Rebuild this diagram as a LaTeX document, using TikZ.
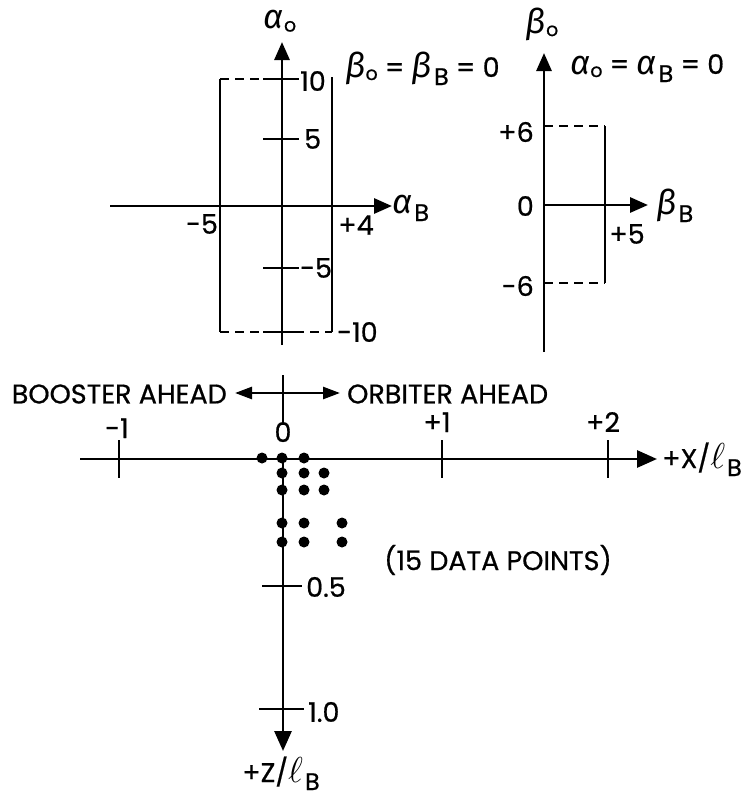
\documentclass[tikz,border=0pt]{standalone}
\usepackage{fontspec}
\setmainfont{Poppins}[FakeBold=0.6]
\newfontfamily\greekfont{Fira Sans}
\newcommand{\gr}[1]{{\greekfont\itshape\fontsize{34}{34}\selectfont #1}}
\newcommand{\subo}{\raisebox{-3pt}{\fontsize{19}{19}\selectfont o}}
\newcommand{\subB}{\kern2pt\raisebox{-8pt}{\fontsize{24}{24}\selectfont B}}
\newcommand{\ellB}{\scalebox{1.45}{$\ell$}\subB}
\usetikzlibrary{arrows.meta, positioning}

\begin{document}
\begin{tikzpicture}[
        x=1pt, y=-1pt,
        font=\fontsize{27}{30}\selectfont,
        axis/.style={line width=2.9pt, -{Triangle[length=18pt, width=15pt]}},
        side/.style={line width=2.6pt},
        limit/.style={line width=2.6pt, dash pattern=on 9pt off 6pt},
        tickmark/.style={line width=2.4pt},
        dot/.style={circle, fill, inner sep=0pt, minimum size=11pt},
        lbl/.style={inner sep=0pt}
    ]
    \useasboundingbox (0,0) rectangle (741,798);

    % alpha plot
    \coordinate (a0) at (282,206);
    \draw[axis] (110,206) -- (392,206);
    \draw[axis] (282,345) -- (282,42);
    \draw[side] (220,79) -- (220,332);
    \draw[side] (332,77) -- (332,332);
    \draw[limit] (220,79) -- (263,79);
    \draw[limit] (220,332) -- (332,332);
    \foreach \y in {79,139,268,332}
        \draw[tickmark] (263,\y) -- (299,\y);
    \node[lbl] (aotitle) at (280,21) {\gr{α}\subo};
    \node[lbl, anchor=base west] (abtitle) at (392,213) {\gr{α}\subB};
    \node[lbl, anchor=base west] (bzero) at (345,77) {\gr{β}\subo\ = \gr{β}\subB\ = 0};
    \node[lbl, anchor=west] (ap10) at (300,81) {10};
    \node[lbl, anchor=west] (ap5) at (304,139) {5};
    \node[lbl, anchor=west] (am5) at (300,268) {-5};
    \node[lbl, anchor=west] (am10) at (337,332) {-10};
    \node[lbl] (bm5) at (202,224) {-5};
    \node[lbl] (bp4) at (356,225) {+4};

    % beta plot
    \coordinate (b0) at (544,205);
    \draw[axis] (544,352) -- (544,53);
    \draw[axis] (544,205) -- (648,205);
    \draw[side] (605,126) -- (605,283);
    \draw[limit] (544,126) -- (605,126);
    \draw[limit] (544,283) -- (605,283);
    \node[lbl] (botitle) at (542,24) {\gr{β}\subo};
    \node[lbl, anchor=base west] (bbtitle) at (656,214) {\gr{β}\subB};
    \node[lbl, anchor=base west] (azero) at (570,74) {\gr{α}\subo\ = \gr{α}\subB\ = 0};
    \node[lbl, anchor=east] (bp6) at (534,132) {+6};
    \node[lbl, anchor=east] (b00) at (534,206) {0};
    \node[lbl, anchor=east] (bm6) at (534,286) {-6};
    \node[lbl] (bp5) at (627,234) {+5};

    % station plot
    \coordinate (s0) at (283,459);
    \draw[tickmark] (283,375) -- (283,425);
    \draw[line width=2.6pt, {Triangle[length=17pt, width=12pt]}-{Triangle[length=17pt, width=12pt]}]
        (235,393) -- (340,393);
    \node[lbl, anchor=east] (booster) at (227,394) {BOOSTER AHEAD};
    \node[lbl, anchor=west] (orbiter) at (347,394) {ORBITER AHEAD};
    \draw[axis, -{Triangle[length=20pt, width=17pt]}] (80,459) -- (657,459);
    \draw[axis, -{Triangle[length=20pt, width=17pt]}] (283,459) -- (283,751);
    \foreach \x in {119,442,608}
        \draw[tickmark] (\x,440) -- (\x,478);
    \draw[tickmark] (262,586) -- (302,586);
    \draw[tickmark] (259,709) -- (304,709);
    \node[lbl, anchor=base] (xm1) at (117,438) {-1};
    \node[lbl, anchor=base] (x0) at (283,442) {0};
    \node[lbl, anchor=base] (xp1) at (437,432) {+1};
    \node[lbl, anchor=base] (xp2) at (603,432) {+2};
    \node[lbl, anchor=base west] (xtitle) at (662,468) {+X/\ellB};
    \node[lbl, anchor=west] (z05) at (306,587) {0.5};
    \node[lbl, anchor=west] (z10) at (308,712) {1.0};
    \node[lbl, anchor=base] (ztitle) at (281,782) {+Z/\ellB};
    \node[lbl] (count) at (498,560) {(15 DATA POINTS)};
    \foreach \x/\y in {262/458, 282/458, 304/458,
                       282/473, 304/473, 324/473,
                       282/490, 304/490, 324/490,
                       282/523, 304/523, 342/523,
                       282/542, 304/542, 342/542}
        \node[dot] at (\x,\y) {};

\end{tikzpicture}
\end{document}
